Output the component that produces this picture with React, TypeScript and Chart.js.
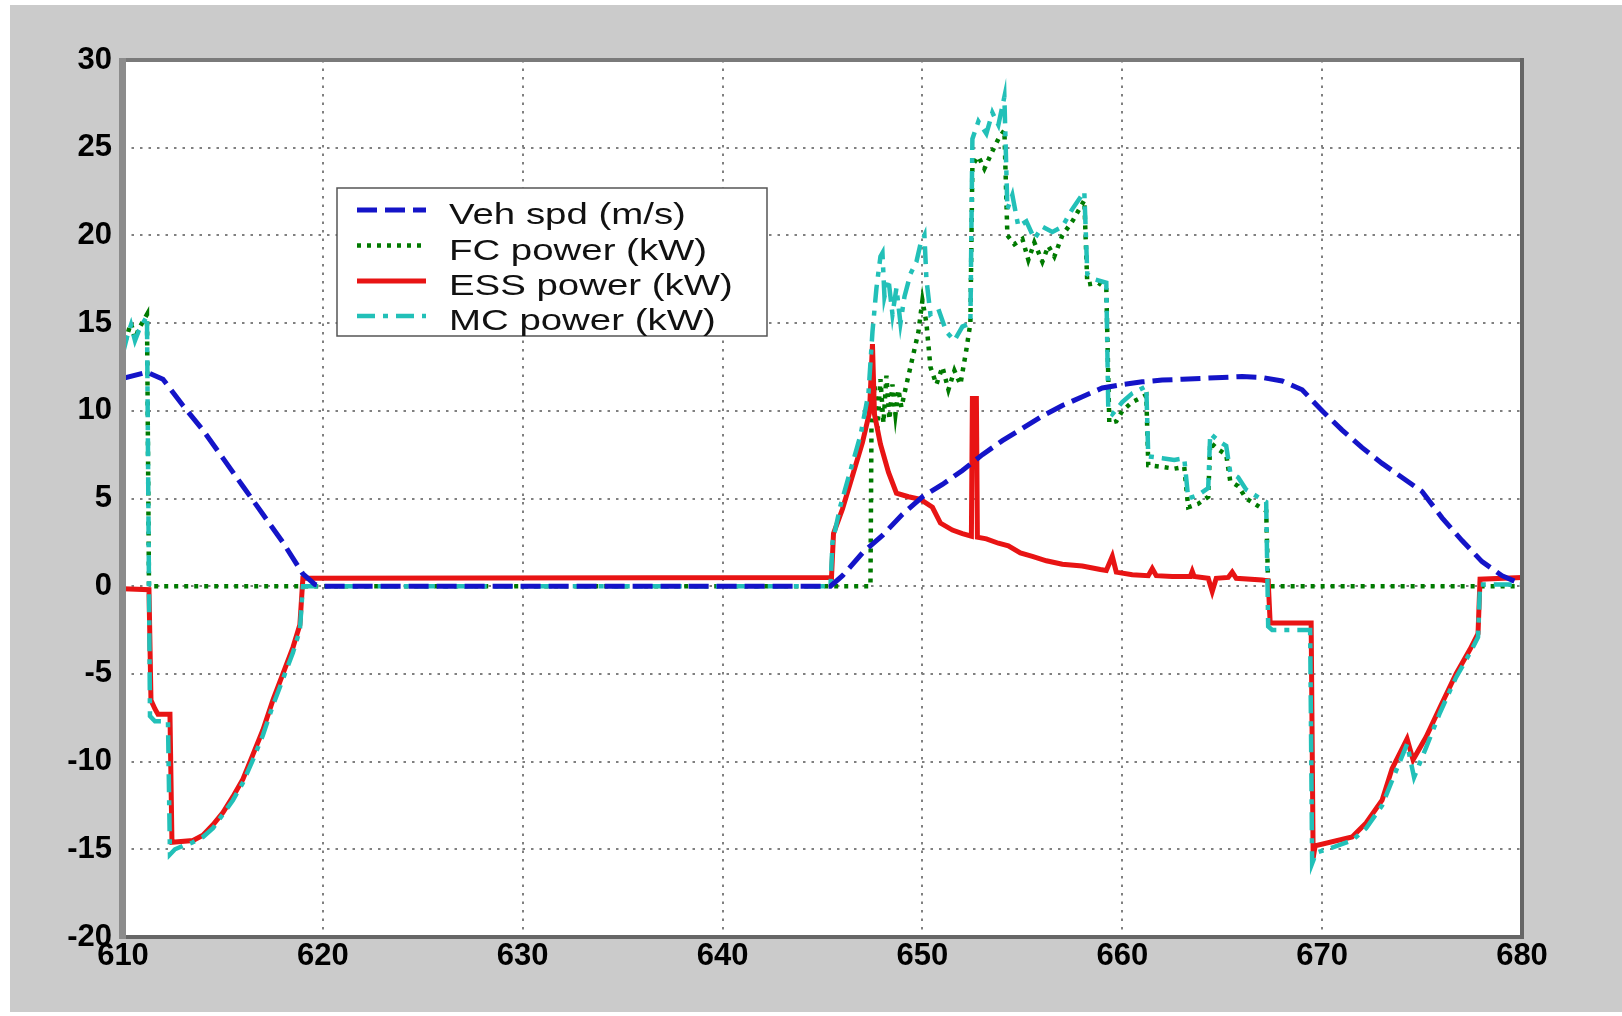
import React, { useEffect, useRef } from "react";
import { Chart, registerables } from "chart.js";

Chart.register(...registerables);

// ---- axis ticks ----
const xTickValues = [610, 620, 630, 640, 650, 660, 670, 680];
const yTickValues = [-20, -15, -10, -5, 0, 5, 10, 15, 20, 25, 30];

// ---- series labels ----
const seriesLabels = ["Veh spd (m/s)", "FC power (kW)", "ESS power (kW)", "MC power (kW)"];

// ---- Veh spd (m/s) ----
const vehT = [610, 611.2, 612, 613, 614, 615, 616, 617, 618, 619, 619.6, 620, 645.4, 646, 647, 648, 649, 650, 651, 652, 653, 654, 655, 656, 657, 658, 659, 660, 661, 662, 663, 664, 665, 666, 667, 668, 669, 670, 671, 672, 673, 674, 675, 676, 677, 678, 679, 680];
const vehV = [11.85, 12.2, 11.8, 10.3, 8.9, 7.3, 5.7, 4.1, 2.5, 0.7, 0.1, 0, 0, 0.6, 1.9, 2.9, 4.1, 5.1, 5.8, 6.6, 7.5, 8.3, 9.0, 9.7, 10.3, 10.8, 11.3, 11.5, 11.65, 11.75, 11.8, 11.85, 11.9, 11.95, 11.9, 11.7, 11.2, 10.0, 8.9, 7.9, 7.0, 6.2, 5.4, 3.9, 2.6, 1.4, 0.6, 0.1];

// ---- FC power (kW) ----
const fcT = [610, 610.2, 610.4, 610.6, 610.8, 611.1, 611.2, 611.3, 647.4, 647.45, 647.6, 647.75, 647.9, 648.05, 648.2, 648.35, 648.5, 648.65, 648.8, 648.95, 649.2, 649.5, 649.8, 650.0, 650.2, 650.4, 650.7, 651.0, 651.3, 651.6, 651.9, 652.2, 652.4, 652.5, 652.8, 653.1, 653.5, 653.8, 654.1, 654.25, 654.6, 655.0, 655.3, 655.6, 656.0, 656.3, 656.6, 657.0, 657.5, 658.1, 658.25, 658.8, 659.2, 659.35, 659.7, 660.0, 660.5, 661.2, 661.3, 662.0, 662.6, 663.1, 663.3, 663.8, 664.3, 664.4, 664.8, 665.2, 665.4, 665.8, 666.2, 666.9, 667.2, 667.3, 680];
const fcV = [13.4, 14.3, 15.0, 14.1, 14.7, 15.3, 15.5, 0, 0, 9.0, 11.5, 9.0, 11.8, 9.3, 12.0, 9.5, 11.5, 9.8, 11.2, 10.2, 11.5, 13.0, 14.5, 16.3, 15.0, 12.5, 11.5, 12.5, 11.2, 12.3, 11.5, 13.5, 15.0, 24.0, 24.5, 23.8, 24.8, 25.5, 26.0, 20.0, 19.5, 19.8, 18.6, 19.6, 18.5, 19.4, 18.8, 20.0, 20.8, 22.0, 17.2, 17.3, 17.0, 9.3, 9.4, 10.0, 10.5, 10.9, 6.9, 6.8, 6.7, 6.8, 4.5, 4.7, 5.1, 8.2, 7.8, 7.5, 6.0, 5.7, 5.0, 4.5, 4.3, 0, 0];

// ---- ESS power (kW) ----
const essT = [610, 611.3, 611.4, 611.6, 611.75, 612.35, 612.45, 613.5, 614.0, 614.5, 615.0, 615.5, 616.0, 616.5, 617.0, 617.5, 618.0, 618.5, 618.85, 619.0, 645.45, 645.55, 646.0, 646.5, 647.0, 647.35, 647.5, 647.6, 647.9, 648.3, 648.7, 649.3, 649.9, 650.5, 650.9, 651.5, 652.0, 652.45, 652.5, 652.7, 652.75, 653.2, 653.8, 654.3, 654.9, 655.5, 656.2, 657.0, 658.0, 658.9, 659.2, 659.5, 659.7, 660.5, 661.3, 661.5, 661.7, 662.5, 663.4, 663.5, 663.6, 664.3, 664.5, 664.7, 665.3, 665.5, 665.7, 667.0, 667.3, 667.4, 669.45, 669.55, 669.65, 671.5, 672.2, 673.0, 673.5, 674.25, 674.55, 675.2, 675.9, 676.7, 677.4, 677.8, 677.9, 680];
const essV = [-0.15, -0.2, -6.5, -7.0, -7.3, -7.3, -14.6, -14.5, -14.2, -13.6, -12.9, -12.0, -11.0, -9.6, -8.2, -6.5, -5.0, -3.5, -2.2, 0.45, 0.5, 3.0, 4.4, 6.3, 8.2, 9.9, 13.8, 9.8, 8.1, 6.5, 5.3, 5.1, 4.95, 4.5, 3.6, 3.2, 3.0, 2.85, 10.7, 10.7, 2.8, 2.7, 2.45, 2.3, 1.9, 1.7, 1.45, 1.25, 1.15, 0.95, 0.9, 1.7, 0.8, 0.65, 0.6, 1.0, 0.6, 0.55, 0.55, 0.85, 0.55, 0.45, -0.3, 0.45, 0.5, 0.8, 0.45, 0.35, 0.3, -2.1, -2.1, -15.5, -14.8, -14.3, -13.5, -12.2, -10.4, -8.7, -9.9, -8.6, -6.9, -5.0, -3.6, -2.7, 0.4, 0.5];

// ---- MC power (kW) ----
const mcT = [610, 610.2, 610.4, 610.6, 610.8, 611.1, 611.2, 611.3, 611.35, 611.6, 612.25, 612.35, 612.6, 613.0, 613.5, 614.0, 614.5, 615.0, 615.5, 616.0, 616.5, 617.0, 617.5, 618.0, 618.5, 618.85, 619.0, 645.4, 645.5, 645.9, 646.4, 646.9, 647.3, 647.5, 647.7, 647.9, 648.0, 648.1, 648.3, 648.5, 648.7, 648.9, 649.1, 649.4, 649.7, 649.9, 650.1, 650.2, 650.4, 650.8, 651.2, 651.6, 652.0, 652.4, 652.5, 652.8, 653.2, 653.5, 653.8, 654.1, 654.25, 654.5, 654.8, 655.2, 655.6, 656.0, 656.5, 657.0, 657.5, 658.1, 658.25, 658.6, 659.2, 659.3, 659.5, 660.0, 660.5, 661.2, 661.3, 662.0, 662.6, 663.1, 663.3, 663.8, 664.3, 664.4, 664.8, 665.2, 665.4, 665.8, 666.2, 666.9, 667.2, 667.3, 667.5, 669.4, 669.5, 669.7, 670.5, 671.5, 672.2, 673.0, 673.6, 674.25, 674.6, 675.2, 675.9, 676.7, 677.4, 677.8, 677.9, 680];
const mcV = [13.3, 14.2, 14.9, 14.0, 14.6, 15.2, 15.4, 0, -7.4, -7.7, -7.7, -15.3, -15.0, -14.8, -14.6, -14.3, -13.8, -13.0, -12.2, -11.2, -9.9, -8.5, -6.8, -5.3, -3.8, -2.5, 0, 0, 2.5, 4.6, 6.6, 8.6, 11.0, 14.5, 17.0, 18.8, 19.0, 16.5, 17.5, 15.5, 17.0, 15.0, 16.5, 17.8, 18.5, 19.5, 20.0, 17.5, 15.5, 15.8, 14.5, 14.0, 14.8, 15.0, 25.5, 26.5, 25.8, 27.0, 26.3, 27.9, 21.5, 22.3, 20.5, 20.8, 19.8, 20.5, 20.2, 20.5, 21.5, 22.5, 17.8, 17.5, 17.3, 10.0, 9.8, 10.5, 11.0, 11.4, 7.4, 7.3, 7.2, 7.3, 5.0, 5.2, 5.6, 8.7, 8.3, 8.0, 6.5, 6.2, 5.5, 5.0, 4.8, -2.3, -2.5, -2.5, -15.8, -15.2, -14.9, -14.5, -13.8, -12.5, -10.8, -9.0, -10.9, -9.2, -7.2, -5.2, -3.8, -2.9, 0.1, 0.1];

const COLORS = ["#1414c8", "#007a00", "#e81414", "#22c0b8"];
const DASHES: number[][] = [[20, 8], [4, 6], [], [18, 8, 5, 8]];
const WIDTHS = [5, 4.5, 5, 4.5];
const ORDERS = [0, 3, 2, 1];

function toPoints(t: number[], v: number[]) {
  return t.map((x, i) => ({ x, y: v[i] }));
}

export default function App() {
  const ref = useRef<HTMLCanvasElement | null>(null);

  useEffect(() => {
    const canvas = ref.current;
    if (!canvas) return;

    const bgPlugin = {
      id: "bgPlugin",
      beforeDraw(chart: any) {
        const { ctx, chartArea: a, width, height } = chart;
        ctx.save();
        ctx.fillStyle = "#ffffff";
        ctx.fillRect(0, 0, width, height);
        ctx.fillStyle = "#cbcbcb";
        ctx.fillRect(10, 5, width - 10, 1007);
        ctx.fillStyle = "#ffffff";
        ctx.fillRect(a.left, a.top, a.right - a.left, a.bottom - a.top);
        ctx.restore();
      },
    };

    const framePlugin = {
      id: "framePlugin",
      afterDatasetsDraw(chart: any) {
        const { ctx, chartArea: a } = chart;
        ctx.save();
        ctx.fillStyle = "#7a7a7a";
        ctx.fillRect(a.left - 2, a.top - 2, a.right - a.left + 4, 4); // top
        ctx.fillStyle = "#666666";
        ctx.fillRect(a.right - 2, a.top - 2, 4, a.bottom - a.top + 4); // right
        ctx.fillRect(a.left - 2, a.bottom - 2, a.right - a.left + 4, 4); // bottom
        ctx.fillStyle = "#8c8c8c";
        ctx.fillRect(a.left - 4, a.top - 2, 7, a.bottom - a.top + 4); // left
        ctx.restore();
      },
      afterDraw(chart: any) {
        const { ctx } = chart;
        const lx = 337, ly = 188, lw = 430, lh = 148;
        ctx.save();
        ctx.fillStyle = "#ffffff";
        ctx.fillRect(lx, ly, lw, lh);
        ctx.strokeStyle = "#555555";
        ctx.lineWidth = 1.5;
        ctx.strokeRect(lx, ly, lw, lh);
        const rows = [210, 245.5, 281, 316];
        seriesLabels.forEach((label, i) => {
          const y = rows[i];
          ctx.save();
          ctx.strokeStyle = COLORS[i];
          ctx.lineWidth = WIDTHS[i];
          ctx.setLineDash(DASHES[i]);
          ctx.beginPath();
          ctx.moveTo(357, y);
          ctx.lineTo(426, y);
          ctx.stroke();
          ctx.restore();
          ctx.save();
          ctx.fillStyle = "#111111";
          ctx.font = '30px "Liberation Sans", Arial, sans-serif';
          ctx.textBaseline = "alphabetic";
          ctx.translate(449, y + 14);
          ctx.scale(1.28, 1);
          ctx.fillText(label, 0, 0);
          ctx.restore();
        });
        ctx.restore();
      },
    };

    const series = [
      toPoints(vehT, vehV),
      toPoints(fcT, fcV),
      toPoints(essT, essV),
      toPoints(mcT, mcV),
    ];

    const chart = new Chart(canvas, {
      type: "line",
      data: {
        datasets: series.map((data, i) => ({
          label: seriesLabels[i],
          data,
          borderColor: COLORS[i],
          backgroundColor: COLORS[i],
          borderWidth: WIDTHS[i],
          borderDash: DASHES[i],
          pointRadius: 0,
          tension: 0,
          fill: false,
          order: ORDERS[i],
          borderCapStyle: "butt",
          borderJoinStyle: "miter",
        })),
      },
      options: {
        animation: false,
        responsive: false,
        maintainAspectRatio: false,
        devicePixelRatio: 1,
        layout: { padding: { left: 0, top: 60, right: 100, bottom: 0 } },
        plugins: {
          legend: { display: false },
          tooltip: { enabled: false },
          title: { display: false },
        },
        scales: {
          x: {
            type: "linear",
            min: 610,
            max: 680,
            afterFit: (s: any) => {
              s.height = 79;
            },
            afterBuildTicks: (s: any) => {
              s.ticks = xTickValues.map((v) => ({ value: v }));
            },
            ticks: {
              color: "#000000",
              padding: 1,
              maxRotation: 0,
              autoSkip: false,
              font: { family: '"Liberation Sans", Arial, sans-serif', size: 31, weight: "bold" },
            },
            grid: { color: "#808080", lineWidth: 2, drawTicks: false },
            border: { display: false, dash: [2.5, 6] },
          },
          y: {
            type: "linear",
            min: -20,
            max: 30,
            afterFit: (s: any) => {
              s.width = 123;
            },
            afterBuildTicks: (s: any) => {
              s.ticks = yTickValues.map((v) => ({ value: v }));
            },
            ticks: {
              color: "#000000",
              padding: 11,
              autoSkip: false,
              font: { family: '"Liberation Sans", Arial, sans-serif', size: 31, weight: "bold" },
            },
            grid: { color: "#808080", lineWidth: 2, drawTicks: false },
            border: { display: false, dash: [2.5, 6] },
          },
        },
      },
      plugins: [bgPlugin, framePlugin],
    } as any);

    return () => {
      chart.destroy();
    };
  }, []);

  return (
    <div style={{ position: "fixed", left: 0, top: 0, width: 1622, height: 1016, background: "#ffffff" }}>
      <canvas ref={ref} width={1622} height={1016} style={{ display: "block", width: 1622, height: 1016 }} />
    </div>
  );
}
